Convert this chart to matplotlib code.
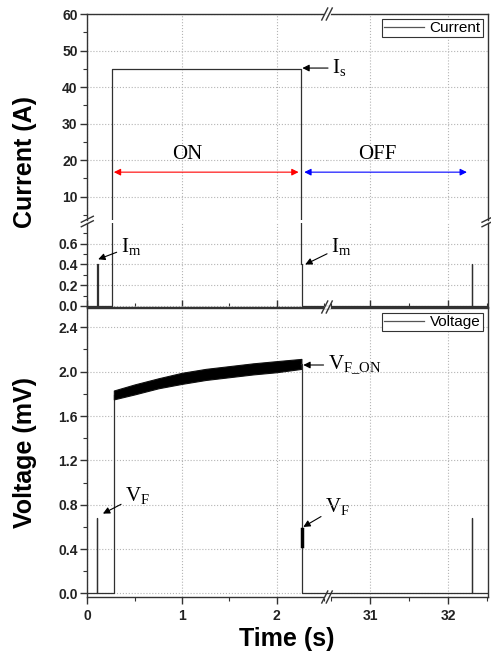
import numpy as np
import matplotlib.pyplot as plt
from matplotlib.patches import ConnectionPatch
from matplotlib.lines import Line2D

plt.rcParams['font.family'] = ['Liberation Sans', 'DejaVu Sans']
plt.rcParams['axes.grid'] = True
plt.rcParams['axes.grid.which'] = 'major'
plt.rcParams['grid.color'] = '#b4b4b4'
plt.rcParams['grid.linestyle'] = ':'
plt.rcParams['grid.linewidth'] = 0.8

# current trace (A), left and right of the time break
cur_t_left = [0, 0.10, 0.10, 0.11, 0.11, 0.26, 0.26, 2.26, 2.26, 2.27, 2.27, 2.53]
cur_i_left = [0, 0, 0.40, 0.40, 0, 0, 45, 45, 0.40, 0.40, 0, 0]
cur_t_right = [30.45, 32.30, 32.30, 32.31, 32.31, 32.52]
cur_i_right = [0, 0, 0.40, 0.40, 0, 0]

# voltage trace (mV)
volt_t_left = [0, 0.10, 0.10, 0.105, 0.105, 0.28, 0.28]
volt_v_left = [0, 0, 0.68, 0.68, 0, 0, 1.79]
volt_t_off = [2.26, 2.265, 2.265, 2.27, 2.27, 2.53]
volt_v_off = [2.07, 2.07, 0.43, 0.43, 0, 0]
vf_t = [2.265, 2.265]
vf_v = [0.58, 0.43]
volt_t_right = [30.45, 32.30, 32.30, 32.31, 32.31, 32.52]
volt_v_right = [0, 0, 0.68, 0.68, 0, 0]
# noisy ON-state band: centre and half width
band_t = [0.28, 0.5, 0.75, 1.0, 1.25, 1.5, 1.75, 2.0, 2.26]
band_v = [1.79, 1.84, 1.895, 1.94, 1.975, 2.0, 2.025, 2.045, 2.07]
band_hw = [0.04, 0.045, 0.045, 0.05, 0.05, 0.05, 0.05, 0.05, 0.045]

W, H = 491, 663
fig = plt.figure(figsize=(W / 100, H / 100), dpi=100)


def fx(x):
    return x / W


def fy(y):
    return 1 - y / H


xl, xb, xr = 87.3, 327, 488
ax_ul = fig.add_axes([fx(xl), fy(220), fx(xb - xl), fy(14) - fy(220)])
ax_ur = fig.add_axes([fx(xb), fy(220), fx(xr - xb), fy(14) - fy(220)])
ax_ll = fig.add_axes([fx(xl), fy(307), fx(xb - xl), fy(223) - fy(307)])
ax_lr = fig.add_axes([fx(xb), fy(307), fx(xr - xb), fy(223) - fy(307)])
ax_vl = fig.add_axes([fx(xl), fy(597), fx(xb - xl), fy(308) - fy(597)])
ax_vr = fig.add_axes([fx(xb), fy(597), fx(xr - xb), fy(308) - fy(597)])
all_axes = [ax_ul, ax_ur, ax_ll, ax_lr, ax_vl, ax_vr]

lc = '#303030'
for ax in [ax_ul, ax_ll]:
    ax.plot(cur_t_left, cur_i_left, color=lc, lw=0.9, zorder=3)
for ax in [ax_ur, ax_lr]:
    ax.plot(cur_t_right, cur_i_right, color=lc, lw=0.9, zorder=3)

ax_vl.plot(volt_t_left, volt_v_left, color=lc, lw=0.9, zorder=3)
lo = np.array(band_v) - np.array(band_hw)
hi = np.array(band_v) + np.array(band_hw)
ax_vl.fill_between(band_t, lo, hi, color='black', lw=0.8, edgecolor='#111111', zorder=3)
ax_vl.plot(volt_t_off, volt_v_off, color=lc, lw=0.9, zorder=3)
ax_vl.plot(vf_t, vf_v, color='black', lw=2.5, zorder=3)
ax_vr.plot(volt_t_right, volt_v_right, color=lc, lw=0.9, zorder=3)

# limits
for ax in [ax_ul, ax_ll, ax_vl]:
    ax.set_xlim(0, 2.53)
for ax in [ax_ur, ax_lr, ax_vr]:
    ax.set_xlim(30.45, 32.51)
    ax.patch.set_visible(False)
ax_ul.set_ylim(3.6, 60)
ax_ur.set_ylim(3.6, 60)
ax_ll.set_ylim(-0.01, 0.8)
ax_lr.set_ylim(-0.01, 0.8)
ax_vl.set_ylim(-0.032, 2.574)
ax_vr.set_ylim(-0.032, 2.574)

tick_font = dict(fontsize=10, fontweight='bold', color='#222222')

for ax in all_axes:
    for s in ax.spines.values():
        s.set_color('#333333')
        s.set_linewidth(1.0)
    ax.tick_params(which='both', right=False, top=False, color='#333333')
    ax.tick_params(which='major', length=5, width=1)
    ax.tick_params(which='minor', length=3, width=0.8)

left_axes = [ax_ul, ax_ll, ax_vl]
right_axes = [ax_ur, ax_lr, ax_vr]
for ax in left_axes:
    ax.spines['right'].set_visible(False)
    ax.set_xticks([0, 1, 2])
    ax.set_xticks([0.5, 1.5, 2.5], minor=True)
for ax in right_axes:
    ax.spines['left'].set_visible(False)
    ax.tick_params(which='both', left=False, labelleft=False)
    ax.set_xticks([31, 32])
    ax.set_xticks([30.5, 31.5, 32.5], minor=True)

# upper current section
for ax in [ax_ul, ax_ur]:
    ax.spines['bottom'].set_visible(False)
    ax.tick_params(which='both', bottom=False, labelbottom=False)
ax_ul.set_yticks([10, 20, 30, 40, 50, 60])
ax_ul.set_yticks([5, 15, 25, 35, 45, 55], minor=True)
ax_ur.set_yticks([10, 20, 30, 40, 50, 60])
ax_ul.set_yticklabels(['10', '20', '30', '40', '50', '60'], **tick_font)

# lower current section
for ax in [ax_ll, ax_lr]:
    ax.spines['top'].set_visible(False)
    ax.tick_params(which='both', direction='in', labelbottom=False, axis='x')
ax_ll.set_yticks([0, 0.2, 0.4, 0.6])
ax_ll.set_yticks([0.1, 0.3, 0.5, 0.7], minor=True)
ax_lr.set_yticks([0, 0.2, 0.4, 0.6])
ax_ll.set_yticklabels(['0.0', '0.2', '0.4', '0.6'], **tick_font)

# voltage panel
ax_vl.set_yticks([0, 0.4, 0.8, 1.2, 1.6, 2.0, 2.4])
ax_vl.set_yticks([0.2, 0.6, 1.0, 1.4, 1.8, 2.2], minor=True)
ax_vr.set_yticks([0, 0.4, 0.8, 1.2, 1.6, 2.0, 2.4])
ax_vl.set_yticklabels(['0.0', '0.4', '0.8', '1.2', '1.6', '2.0', '2.4'], **tick_font)
ax_vl.set_xticklabels(['0', '1', '2'], **tick_font)
ax_vr.set_xticklabels(['31', '32'], **tick_font)

for ax in [ax_ul, ax_ll, ax_vl]:
    ax.tick_params(axis='y', pad=2)

# legends
leg_kw = dict(loc='upper right', fontsize=11, frameon=True, fancybox=False,
              handlelength=2.6, handletextpad=0.4, borderpad=0.12,
              borderaxespad=0.35, framealpha=1)
l1 = ax_ur.legend([Line2D([], [], color='#555555', lw=0.9)], ['Current'], **leg_kw)
l2 = ax_vr.legend([Line2D([], [], color='#555555', lw=0.9)], ['Voltage'], **leg_kw)
for lg in [l1, l2]:
    lg.get_frame().set_edgecolor('#333333')
    lg.get_frame().set_linewidth(0.8)
    lg.set_zorder(20)

# axis labels
fig.text(fx(25), fy(162), 'Current (A)', rotation=90, ha='center', va='center',
         fontsize=18, fontweight='bold')
fig.text(fx(25), fy(453), 'Voltage (mV)', rotation=90, ha='center', va='center',
         fontsize=18, fontweight='bold')
fig.text(fx(287), fy(639), 'Time (s)', ha='center', va='center',
         fontsize=18, fontweight='bold')

# annotations
serif = ['Liberation Serif', 'DejaVu Serif']
arw = dict(arrowstyle='-|>', color='black', lw=0.8, mutation_scale=10,
           shrinkA=1, shrinkB=0)
ann_kw = dict(family=serif, fontsize=15, ha='center', va='center',
              arrowprops=arw, annotation_clip=False, zorder=10)
ax_ul.annotate(r'I$_\mathregular{s}$', xy=(2.27, 45.2), xytext=(2.66, 45.2), **ann_kw)
ax_ll.annotate(r'I$_\mathregular{m}$', xy=(0.115, 0.45), xytext=(0.46, 0.57), **ann_kw)
ax_ll.annotate(r'I$_\mathregular{m}$', xy=(2.30, 0.40), xytext=(2.68, 0.57), **ann_kw)
ax_vl.annotate(r'V$_\mathregular{F}$', xy=(0.165, 0.72), xytext=(0.53, 0.88), **ann_kw)
ax_vl.annotate(r'V$_\mathregular{F}$', xy=(2.28, 0.60), xytext=(2.64, 0.78), **ann_kw)
ax_vl.annotate(r'V$_\mathregular{F\_ON}$', xy=(2.28, 2.06), xytext=(2.82, 2.06), **ann_kw)

ax_ul.text(1.05, 21.4, 'ON', family=serif, fontsize=15, ha='center', va='center')
ax_ur.text(31.09, 21.4, 'OFF', family=serif, fontsize=15, ha='center', va='center')
ax_ul.annotate('', xy=(0.28, 16.7), xytext=(2.23, 16.7),
               arrowprops=dict(arrowstyle='<|-|>', color='red', lw=0.8,
                               mutation_scale=10, shrinkA=0, shrinkB=0))
off = ConnectionPatch(xyA=(2.29, 16.7), coordsA=ax_ul.transData,
                      xyB=(32.24, 16.7), coordsB=ax_ur.transData,
                      arrowstyle='<|-|>', color='blue', lw=0.8,
                      mutation_scale=10, shrinkA=0, shrinkB=0)
fig.add_artist(off)


# break marks
def slash_pair(x, y, dx=3.0, dy=6.0, gap=4.5, horiz=False):
    for k in (-gap / 2, gap / 2):
        if horiz:
            xs = [x - 6, x + 6]
            ys = [y + k + 3, y + k - 3]
        else:
            xs = [x + k - dx, x + k + dx]
            ys = [y + dy, y - dy]
        fig.add_artist(Line2D([fx(v) for v in xs], [fy(v) for v in ys],
                              color='#333333', lw=1.0))


for yy in (14, 307, 597):
    fig.add_artist(Line2D([fx(xb - 2.2), fx(xb + 2.2)], [fy(yy), fy(yy)],
                          color='white', lw=2))
    slash_pair(xb, yy)
for xx in (xl, xr):
    slash_pair(xx, 221.5, horiz=True)

fig.savefig('out.png', dpi=100)
